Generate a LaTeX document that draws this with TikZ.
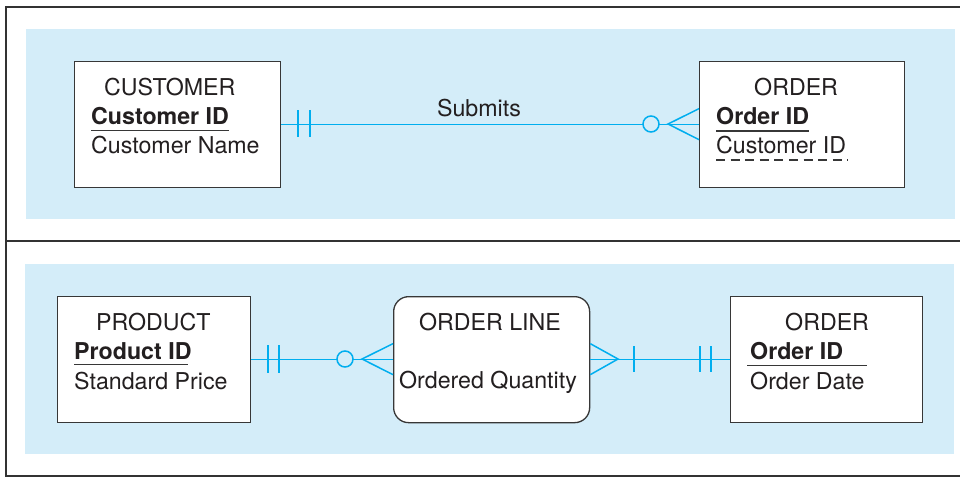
\documentclass[tikz,border=0pt]{standalone}
\usepackage{fontspec}
\setmainfont{TeX Gyre Heros}
\usetikzlibrary{calc}
\begin{document}
\begin{tikzpicture}[x=1pt,y=-1pt,
  entity/.style={draw=boxgray,line width=1.3pt,fill=white,inner sep=0pt,anchor=north west},
  txt/.style={anchor=base west,inner sep=0pt,font=\fontsize{23.2}{27}\selectfont,text=txtgray},
  keytxt/.style={txt,font=\fontsize{23.2}{27}\selectfont\bfseries},
  rel/.style={draw=relcyan,line width=1.5pt},
  uline/.style={draw=boxgray,line width=1.3pt},
  frame/.style={draw=framegray,line width=2pt}]
\definecolor{panel}{RGB}{212,237,249}
\definecolor{relcyan}{RGB}{0,174,239}
\definecolor{boxgray}{RGB}{55,55,55}
\definecolor{txtgray}{RGB}{35,31,32}
\definecolor{framegray}{RGB}{50,50,50}
\useasboundingbox (0,0) rectangle (960,477);
% frame
\draw[frame] (961,7) -- (6,7) -- (6,476) -- (961,476);
\draw[frame] (6,241) -- (961,241);
% panels
\fill[panel] (26,29) rectangle (955,219);
\fill[panel] (25,264) rectangle (954,454);
% ---------- top ----------
\node[entity,minimum width=206pt,minimum height=126pt] (cust) at (74,61) {};
\node[entity,minimum width=205pt,minimum height=126pt] (ord1) at (699,61) {};
\node[txt] (custT) at (104,95) {CUSTOMER};
\node[keytxt] (custK) at (91,124) {Customer ID};
\draw[uline] (custK.base west) ++(0,6.5) -- ++(138,0);
\node[txt] (custN) at (91,153) {Customer Name};
\node[txt] (ord1T) at (754,95) {ORDER};
\node[keytxt] (ord1K) at (716,124) {Order ID};
\draw[uline] (ord1K.base west) ++(0,7) -- ++(93,0);
\node[txt] (ord1F) at (716,153) {Customer ID};
\draw[boxgray,line width=1.3pt,dash pattern=on 9pt off 5.6pt] (ord1F.base west) ++(0,7) -- ++(132,0);
% relationship Submits
\draw[rel] (cust.east) -- (ord1.west);
\draw[rel] (298,110) -- (298,137) (310,110) -- (310,137);
\node[draw=relcyan,line width=1.5pt,circle,fill=panel,minimum size=16pt,inner sep=0pt] (c1) at (651,124) {};
\coordinate (a1) at (668,124);
\draw[rel] ($(ord1.west)+(0,-16)$) -- (a1) -- ($(ord1.west)+(0,15)$);
\node[txt,anchor=base] (lbl) at (479,116) {Submits};
% ---------- bottom ----------
\node[entity,minimum width=193pt,minimum height=126pt] (prod) at (57,296) {};
\node[entity,rounded corners=15pt,minimum width=196pt,minimum height=126pt] (ol) at (393,296) {};
\node[entity,minimum width=192pt,minimum height=126pt] (ord2) at (730,296) {};
\node[txt] (prodT) at (96,330) {PRODUCT};
\node[keytxt] (prodK) at (74,359) {Product ID};
\draw[uline] (prodK.base west) ++(0,5.5) -- ++(114,0);
\node[txt] (prodF) at (74,389) {Standard Price};
\node[txt,anchor=base] (olT) at (490,330) {ORDER LINE};
\node[txt,anchor=base] (olF) at (488,388) {Ordered Quantity};
\node[txt] (ord2T) at (785,330) {ORDER};
\node[keytxt] (ord2K) at (750,359) {Order ID};
\draw[uline] (747,365.5) -- (867,365.5);
\node[txt] (ord2F) at (750,389) {Order Date};
% relationships
\draw[rel] (prod.east) -- (ol.west);
\draw[rel] (268,345) -- (268,373) (279,345) -- (279,373);
\node[draw=relcyan,line width=1.5pt,circle,fill=panel,minimum size=16pt,inner sep=0pt] (c2) at (345,359) {};
\coordinate (a2) at (362,359);
\draw[rel] ($(ol.west)+(0,-16)$) -- (a2) -- ($(ol.west)+(0,15)$);
\draw[rel] (ol.east) -- (ord2.west);
\coordinate (a3) at (618,359);
\draw[rel] ($(ol.east)+(0,-16)$) -- (a3) -- ($(ol.east)+(0,15)$);
\draw[rel] (634,346) -- (634,372);
\draw[rel] (700,346) -- (700,372) (711,346) -- (711,372);
\end{tikzpicture}
\end{document}
